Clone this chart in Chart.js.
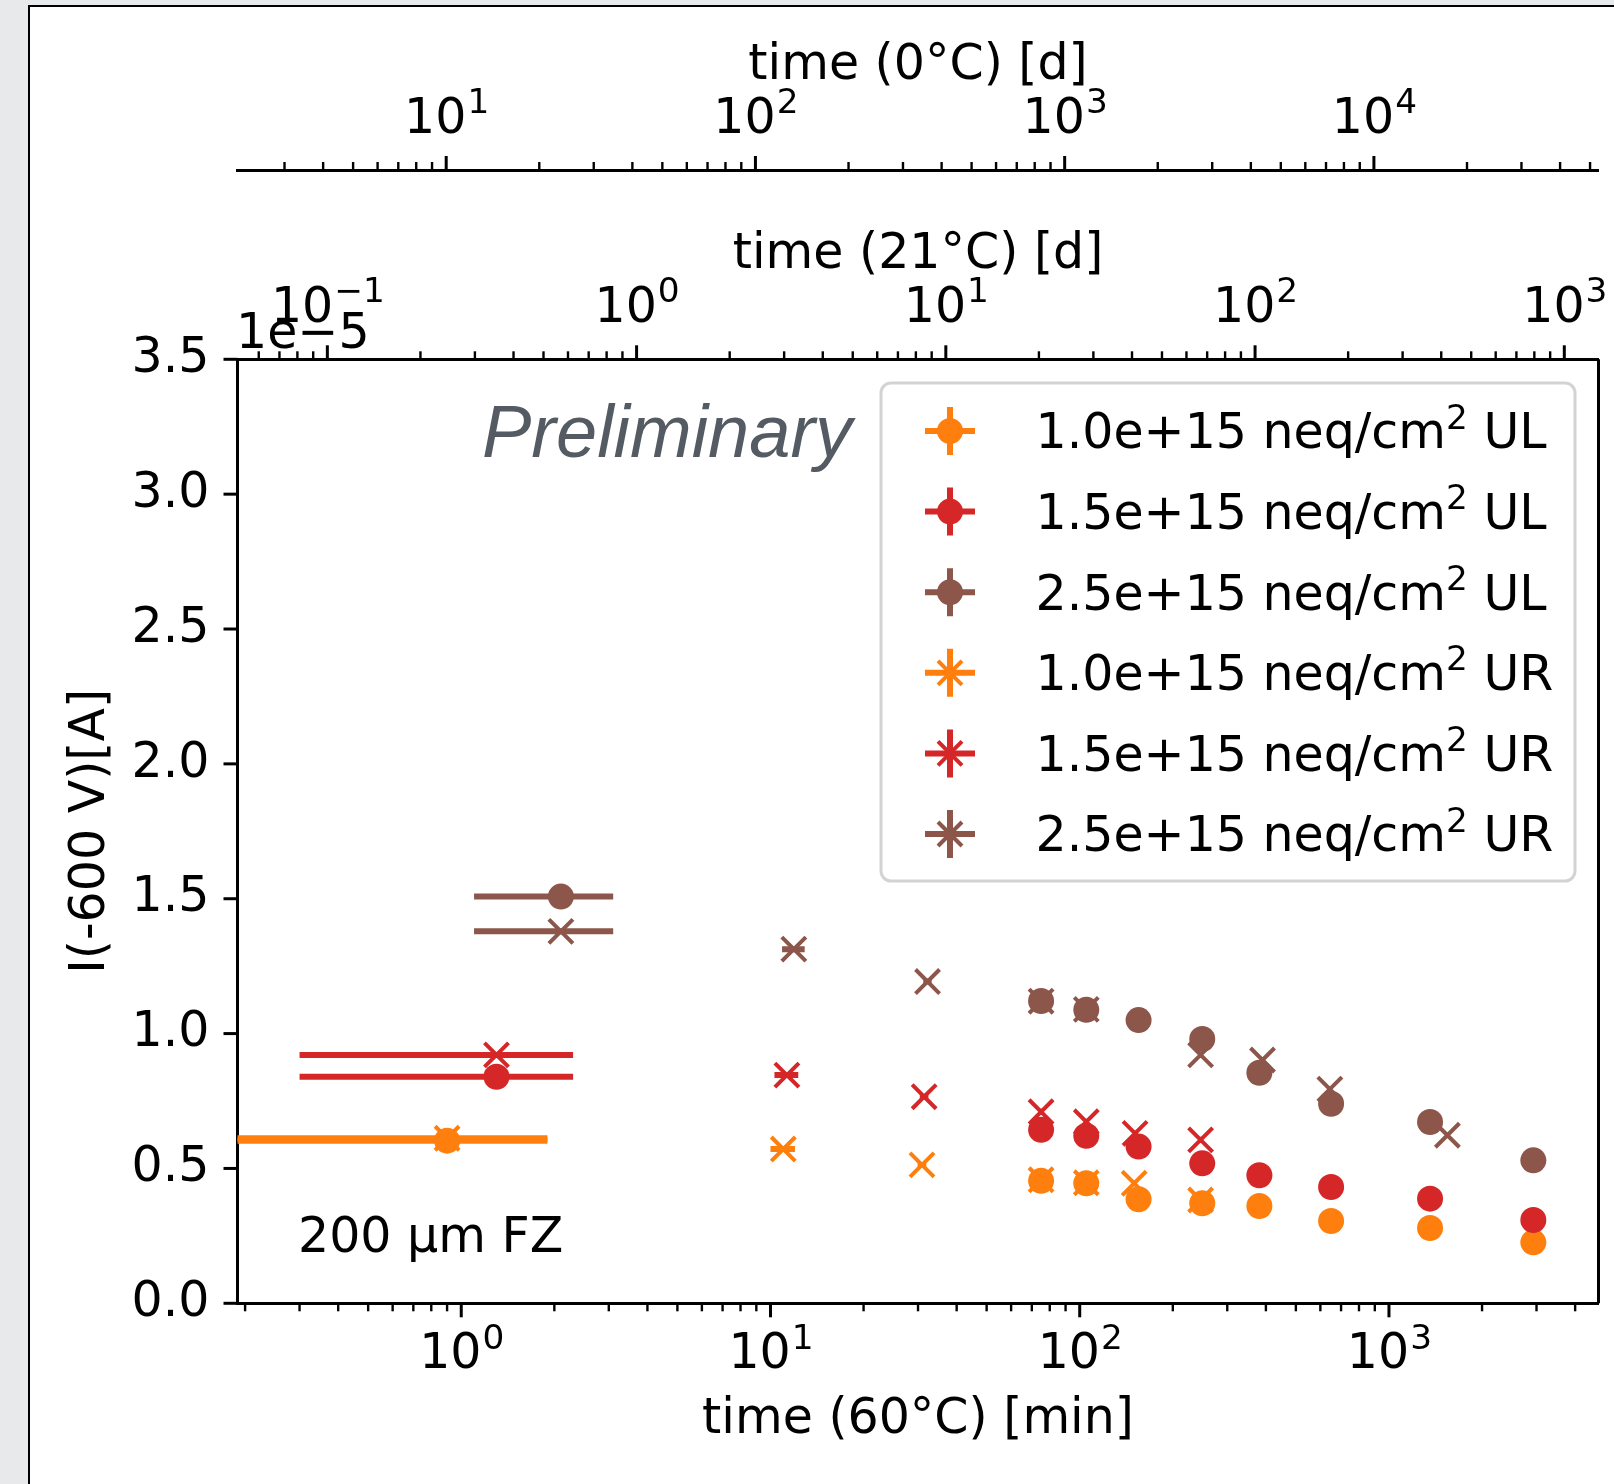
<!DOCTYPE html>
<html>
<head>
<meta charset="utf-8">
<script src="https://cdn.jsdelivr.net/npm/chart.js@4.4.1/dist/chart.umd.min.js"></script>
<style>
  html, body { margin: 0; padding: 0; }
  body { width: 1614px; height: 1484px; background: #e8e9ea; position: relative; overflow: hidden; }
  #frame { position: absolute; left: 28px; top: 5px; right: 0; bottom: 0; background: #fff;
           border-left: 2px solid #000; border-top: 2px solid #000; }
  #chart { position: absolute; left: 0; top: 0; }
</style>
</head>
<body>
<div id="frame"></div>
<canvas id="chart" width="1614" height="1484"></canvas>
<script>
// current in units of 1e-5 A, time in minutes at 60 C
const tUL10 = [0.9, 75, 105, 155, 249, 381, 650, 1358, 2930];
const iUL10 = [0.603, 0.454, 0.445, 0.386, 0.371, 0.361, 0.305, 0.279, 0.226];
const tUL15 = [1.3, 75, 105, 155, 249, 381, 650, 1358, 2930];
const iUL15 = [0.840, 0.643, 0.621, 0.581, 0.519, 0.475, 0.431, 0.388, 0.309];
const tUL25 = [2.1, 75, 105, 155, 249, 381, 650, 1358, 2930];
const iUL25 = [1.508, 1.121, 1.088, 1.050, 0.980, 0.855, 0.740, 0.672, 0.530];

const tUR10 = [0.9, 11.0, 30.9, 75, 105, 150, 246];
const iUR10 = [0.612, 0.572, 0.513, 0.458, 0.447, 0.445, 0.383];
const tUR15 = [1.3, 11.3, 31.4, 75, 105, 151, 246];
const iUR15 = [0.921, 0.846, 0.766, 0.710, 0.673, 0.630, 0.606];
const tUR25 = [2.1, 11.9, 32.2, 75, 105, 246, 390, 644, 1545];
const iUR25 = [1.379, 1.313, 1.193, 1.120, 1.090, 0.921, 0.902, 0.794, 0.623];

const timeErr = 1.0; // min, every point

const fluences = ['1.0e+15', '1.5e+15', '2.5e+15'];
const sides = ['UL', 'UR'];
const colors = ['#ff7f0e', '#d62728', '#8c564b'];

// axis ranges and labelled decades
const T60_MIN = 0.189, T60_MAX = 4760;
const MIN_PER_DAY_21C = 3.69;   // 60C minutes per day at 21C
const MIN_PER_DAY_0C = 0.0894;  // 60C minutes per day at 0C
const decades60 = [0, 1, 2, 3];
const decades21 = [-1, 0, 1, 2, 3];
const decades0 = [1, 2, 3, 4];
const yTicks = [0, 0.5, 1.0, 1.5, 2.0, 2.5, 3.0, 3.5];

const FONT = '"DejaVu Sans"';
const FS = 49;
const SUPFS = 34.3;
const SUPRAISE = 19.8;

function logTickList(min, max) {
  const out = [];
  for (let e = Math.floor(Math.log10(min)); e <= Math.ceil(Math.log10(max)); e++) {
    for (let m = 1; m < 10; m++) {
      const v = m * Math.pow(10, e);
      if (v >= min * 0.9999 && v <= max * 1.0001) out.push({ v: v, major: m === 1 });
    }
  }
  return out;
}

function pts(ts, vs) {
  return ts.map((t, i) => ({ x: t, y: vs[i] }));
}

const series = [
  { t: tUL25, v: iUL25, c: 2, s: 0, order: 0 },
  { t: tUL15, v: iUL15, c: 1, s: 0, order: 1 },
  { t: tUL10, v: iUL10, c: 0, s: 0, order: 2 },
  { t: tUR25, v: iUR25, c: 2, s: 1, order: 3 },
  { t: tUR15, v: iUR15, c: 1, s: 1, order: 4 },
  { t: tUR10, v: iUR10, c: 0, s: 1, order: 5 },
];

const datasets = series.map(sr => ({
  label: fluences[sr.c] + ' neq/cm2 ' + sides[sr.s],
  data: pts(sr.t, sr.v),
  order: sr.order,
  pointStyle: sr.s === 0 ? 'circle' : 'crossRot',
  radius: sr.s === 0 ? 13 : 17,
  backgroundColor: colors[sr.c],
  borderColor: colors[sr.c],
  borderWidth: sr.s === 0 ? 0 : 4,
  showLine: false,
}));

function logAxis(min, max, pos, weight, height, title, titlePad) {
  return {
    type: 'logarithmic', position: pos, weight: weight, min: min, max: max,
    grid: { display: false, drawTicks: true, tickLength: 14 },
    border: { display: true, color: '#000', width: 3 },
    ticks: { display: false },
    title: { display: true, text: title, color: '#000', font: { family: FONT, size: FS },
             padding: titlePad },
    afterFit: s => { s.height = height; }
  };
}

const errorBars = {
  id: 'errorBars',
  beforeDatasetDraw(chart, args) {
    const ds = chart.data.datasets[args.index];
    const xs = chart.scales.x, ys = chart.scales.y, a = chart.chartArea;
    const ctx = chart.ctx;
    ctx.save();
    ctx.beginPath();
    ctx.rect(a.left, a.top, a.right - a.left, a.bottom - a.top);
    ctx.clip();
    ctx.strokeStyle = ds.borderColor;
    ctx.lineWidth = 6;
    ds.data.forEach(p => {
      const lo = p.x - timeErr, hi = p.x + timeErr;
      const x1 = lo > 0 ? xs.getPixelForValue(lo) : a.left - 10;
      const x2 = xs.getPixelForValue(hi);
      const py = ys.getPixelForValue(p.y);
      ctx.beginPath();
      ctx.moveTo(x1, py);
      ctx.lineTo(x2, py);
      ctx.stroke();
    });
    ctx.restore();
  }
};

function tickMarks(ctx, scale, up) {
  logTickList(scale.min, scale.max).forEach(tk => {
    const px = scale.getPixelForValue(tk.v);
    const len = tk.major ? 14 : 8;
    ctx.lineWidth = tk.major ? 3 : 2.4;
    const y0 = up ? scale.bottom : scale.top;
    ctx.beginPath();
    ctx.moveTo(px, y0);
    ctx.lineTo(px, up ? y0 - len : y0 + len);
    ctx.stroke();
  });
}

function powLabels(ctx, scale, decades, baseline) {
  decades.forEach(e => {
    const px = scale.getPixelForValue(Math.pow(10, e));
    const exp = String(e).replace('-', '\u2212');
    ctx.font = FS + 'px ' + FONT;
    const w1 = ctx.measureText('10').width;
    ctx.font = SUPFS + 'px ' + FONT;
    const w2 = ctx.measureText(exp).width;
    const x = px - (w1 + w2) / 2;
    ctx.font = FS + 'px ' + FONT;
    ctx.fillText('10', x, baseline);
    ctx.font = SUPFS + 'px ' + FONT;
    ctx.fillText(exp, x + w1 + 1, baseline - SUPRAISE);
  });
}

function roundRect(ctx, x, y, w, h, r) {
  ctx.beginPath();
  ctx.moveTo(x + r, y);
  ctx.arcTo(x + w, y, x + w, y + h, r);
  ctx.arcTo(x + w, y + h, x, y + h, r);
  ctx.arcTo(x, y + h, x, y, r);
  ctx.arcTo(x, y, x + w, y, r);
  ctx.closePath();
}

const decorations = {
  id: 'decorations',
  afterDraw(chart) {
    const ctx = chart.ctx, a = chart.chartArea;
    const sx = chart.scales.x, s21 = chart.scales.x21, s0 = chart.scales.x0, ys = chart.scales.y;
    ctx.save();
    ctx.strokeStyle = '#000';
    tickMarks(ctx, sx, false);
    tickMarks(ctx, s21, true);
    tickMarks(ctx, s0, true);
    ctx.lineWidth = 3;
    yTicks.forEach(v => {
      const py = ys.getPixelForValue(v);
      ctx.beginPath();
      ctx.moveTo(a.left, py);
      ctx.lineTo(a.left - 14, py);
      ctx.stroke();
    });
    // right spine
    ctx.beginPath();
    ctx.moveTo(a.right, a.top);
    ctx.lineTo(a.right, a.bottom);
    ctx.stroke();

    ctx.fillStyle = '#000';
    ctx.textBaseline = 'alphabetic';
    ctx.textAlign = 'left';
    powLabels(ctx, sx, decades60, sx.top + 65);
    powLabels(ctx, s21, decades21, s21.bottom - 37.6);
    powLabels(ctx, s0, decades0, s0.bottom - 37.3);

    ctx.font = FS + 'px ' + FONT;
    ctx.fillText('1e\u22125', 236, 348);
    ctx.fillText('200 \u00b5m FZ', 298, 1252);

    ctx.fillStyle = '#555b62';
    ctx.font = 'italic 74px "Liberation Sans"';
    ctx.fillText('Preliminary', 482, 457);

    // legend
    roundRect(ctx, 881, 383, 694, 498, 10);
    ctx.fillStyle = 'rgba(255,255,255,0.8)';
    ctx.fill();
    ctx.strokeStyle = '#d3d3d3';
    ctx.lineWidth = 3;
    ctx.stroke();
    let row = 0;
    sides.forEach((side, s) => {
      fluences.forEach((flu, c) => {
        const cy = 431 + row * 80.6, cx = 950;
        ctx.strokeStyle = colors[c];
        ctx.fillStyle = colors[c];
        ctx.lineWidth = 6;
        ctx.beginPath();
        ctx.moveTo(cx - 25, cy); ctx.lineTo(cx + 25, cy);
        ctx.moveTo(cx, cy - 24); ctx.lineTo(cx, cy + 24);
        ctx.stroke();
        if (s === 0) {
          ctx.beginPath();
          ctx.arc(cx, cy, 13, 0, Math.PI * 2);
          ctx.fill();
        } else {
          ctx.lineWidth = 4;
          ctx.beginPath();
          ctx.moveTo(cx - 12, cy - 12); ctx.lineTo(cx + 12, cy + 12);
          ctx.moveTo(cx - 12, cy + 12); ctx.lineTo(cx + 12, cy - 12);
          ctx.stroke();
        }
        ctx.fillStyle = '#000';
        const base = cy + 17.3;
        let x = 1035.5;
        const main = flu + ' neq/cm';
        ctx.font = FS + 'px ' + FONT;
        ctx.fillText(main, x, base);
        x += ctx.measureText(main).width;
        ctx.font = SUPFS + 'px ' + FONT;
        ctx.fillText('2', x, base - SUPRAISE);
        x += ctx.measureText('2').width;
        ctx.font = FS + 'px ' + FONT;
        ctx.fillText(' ' + side, x, base);
        row++;
      });
    });
    ctx.restore();
  }
};

new Chart(document.getElementById('chart'), {
  type: 'scatter',
  data: { datasets: datasets },
  options: {
    responsive: false,
    animation: false,
    devicePixelRatio: 1,
    events: [],
    layout: { autoPadding: false, padding: { top: 0, left: 0, right: 15.5, bottom: 0 } },
    plugins: { legend: { display: false }, tooltip: { enabled: false } },
    scales: {
      x: logAxis(T60_MIN, T60_MAX, 'bottom', 0, 180.7,
                 'time (60\u00b0C) [min]', { top: 0, bottom: 34.8 }),
      x21: logAxis(T60_MIN / MIN_PER_DAY_21C, T60_MAX / MIN_PER_DAY_21C, 'top', 0, 189.3,
                   'time (21\u00b0C) [d]', { top: 55.9, bottom: 0 }),
      x0: logAxis(T60_MIN / MIN_PER_DAY_0C, T60_MAX / MIN_PER_DAY_0C, 'top', 1, 170,
                  'time (0\u00b0C) [d]', { top: 37, bottom: 0 }),
      y: {
        type: 'linear', position: 'left', min: 0, max: 3.5,
        grid: { display: false, drawTicks: true, tickLength: 14 },
        border: { display: true, color: '#000', width: 3 },
        ticks: { stepSize: 0.5, padding: 14, color: '#000', font: { family: FONT, size: FS },
                 callback: v => v.toFixed(1) },
        title: { display: true, text: 'I(-600 V)[A]', color: '#000', font: { family: FONT, size: FS },
                 padding: { top: 62, bottom: 0 } },
        afterFit: s => { s.width = 237.5; }
      }
    }
  },
  plugins: [errorBars, decorations]
});
</script>
</body>
</html>
